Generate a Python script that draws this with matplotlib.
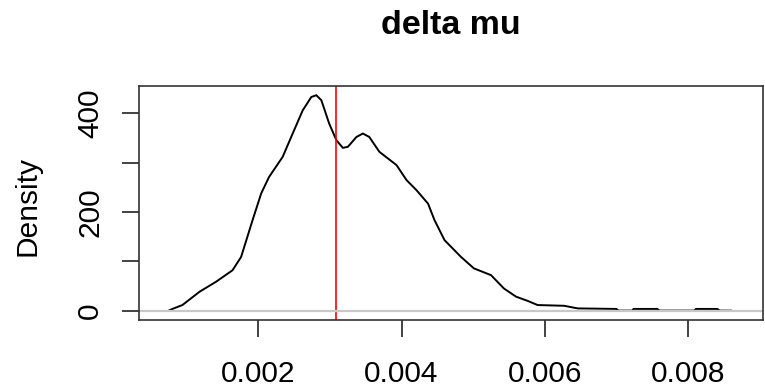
import numpy as np
import matplotlib.pyplot as plt

# density estimate of delta mu
x_vals = [0.00075, 0.00080, 0.00094, 0.00118, 0.00141, 0.00164, 0.00176, 0.00192,
          0.00204, 0.00215, 0.00234, 0.00248, 0.00262, 0.00274, 0.00281, 0.00288,
          0.00299, 0.00309, 0.00318, 0.00325, 0.00337, 0.00346, 0.00355, 0.00369,
          0.00393, 0.00407, 0.00421, 0.00437, 0.00446, 0.00460, 0.00483, 0.00501,
          0.00525, 0.00543, 0.00560, 0.00576, 0.00590, 0.00627, 0.00646, 0.00700,
          0.00703, 0.00722, 0.00724, 0.00757, 0.00760, 0.00809, 0.00811, 0.00841,
          0.00844, 0.00860]
density = [0.3, 3.6, 11.5, 38.5, 58.7, 82.0, 109.0, 183.6,
           237.6, 271.0, 311.7, 359.0, 406.0, 433.0, 436.6, 426.5,
           379.0, 345.5, 330.0, 332.0, 352.0, 359.0, 352.0, 322.0,
           295.0, 264.6, 244.0, 217.0, 183.6, 143.0, 109.0, 85.8,
           72.0, 45.0, 28.4, 20.0, 11.5, 10.0, 4.7, 3.6,
           0.3, 0.3, 3.6, 3.6, 0.3, 0.3, 3.6, 3.6,
           0.3, 0.2]

true_value = 0.00309
x_ticks = [0.002, 0.004, 0.006, 0.008]
x_labels = ["0.002", "0.004", "0.006", "0.008"]
y_ticks = [0, 100, 200, 300, 400]
y_labels = ["0", "", "200", "", "400"]

plt.rcParams["font.family"] = ["Liberation Sans", "DejaVu Sans"]

fig = plt.figure(figsize=(7.65, 3.9), dpi=100)
ax = fig.add_axes([139 / 765, 70 / 390, 624 / 765, 234 / 390])

ax.plot(x_vals, density, color="black", lw=1.4)
ax.axvline(true_value, color="#ff0000", lw=1.2)
ax.axhline(0, color="#c8c8c8", lw=1.6)

ax.set_xlim(0.000334, 0.009047)
ax.set_ylim(-18.8, 455.3)

ax.set_xticks(x_ticks)
ax.set_xticklabels(x_labels)
ax.set_yticks(y_ticks)
ax.set_yticklabels(y_labels, rotation=90, va="center")

ax.tick_params(axis="both", length=12.2, width=1.2, color="#222222", labelsize=21.5)
ax.tick_params(axis="x", pad=16.5)
ax.tick_params(axis="y", pad=13)

for sp in ax.spines.values():
    sp.set_linewidth(1.2)
    sp.set_color("#333333")

fig.text(451 / 765, 1 - 34 / 390, "delta mu", ha="center", va="baseline",
         fontsize=24.5, fontweight="bold")
fig.text(28 / 765, 1 - 206 / 390, "Density", ha="center", va="center",
         rotation=90, fontsize=21.5)

fig.savefig("out.png", dpi=100)
